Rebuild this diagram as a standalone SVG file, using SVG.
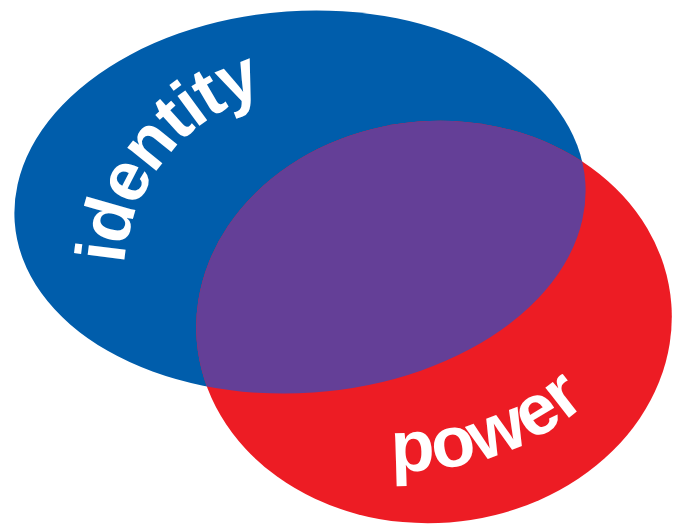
<svg xmlns="http://www.w3.org/2000/svg" xmlns:xlink="http://www.w3.org/1999/xlink" width="686" height="526" viewBox="0 0 686 526">
  <style>
    .blue { fill: #005DAB; }
    .red { fill: #ED1C24; }
    .purple { fill: #643F97; }
    .label { fill: #FFFFFF; font-family: "Liberation Sans", Arial, sans-serif; font-weight: bold; }
  </style>
  <defs>
    <ellipse id="blueShape" cx="300" cy="202" rx="286" ry="191" transform="rotate(-4 300 202)"/>
    <ellipse id="redShape" cx="434" cy="322" rx="238" ry="201" transform="rotate(-4.4 434 322)"/>
    <clipPath id="blueClip">
      <use xlink:href="#blueShape"/>
    </clipPath>
    <path id="identityArc" d="M 136 349 A 194 194 0 0 1 347.5 88.4"/>
    <path id="powerArc" d="M 222.6 402.8 A 278 278 0 0 0 677.9 246"/>
  </defs>
  <rect width="686" height="526" fill="#FFFFFF"/>
  <g id="identity">
    <use xlink:href="#blueShape" class="blue"/>
  </g>
  <g id="power">
    <use xlink:href="#redShape" class="red"/>
  </g>
  <g id="overlap">
    <use xlink:href="#redShape" class="purple" clip-path="url(#blueClip)"/>
  </g>
  <g id="identity-label">
    <text class="label" font-size="70" letter-spacing="-2" text-anchor="middle"><textPath xlink:href="#identityArc" startOffset="50%">identity</textPath></text>
  </g>
  <g id="power-label">
    <text class="label" font-size="72" text-anchor="middle"><textPath xlink:href="#powerArc" startOffset="50%">power</textPath></text>
  </g>
</svg>
